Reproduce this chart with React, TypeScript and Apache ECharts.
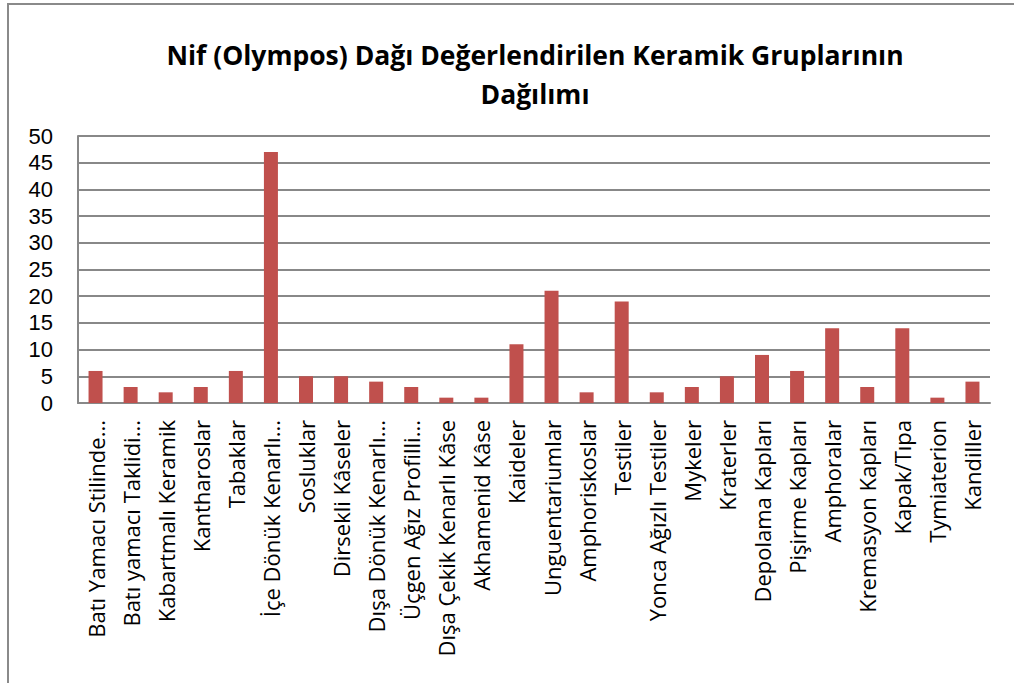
import React, { useEffect, useRef } from "react";
import * as echarts from "echarts";

const categories = [
  "Batı Yamacı Stilinde...",
  "Batı yamacı Taklidi...",
  "Kabartmalı Keramik",
  "Kantharoslar",
  "Tabaklar",
  "İçe Dönük Kenarlı...",
  "Sosluklar",
  "Dirsekli Kâseler",
  "Dışa Dönük Kenarlı...",
  "Üçgen Ağız Profilli...",
  "Dışa Çekik Kenarlı Kâse",
  "Akhamenid Kâse",
  "Kaideler",
  "Unguentariumlar",
  "Amphoriskoslar",
  "Testiler",
  "Yonca Ağızlı Testiler",
  "Mykeler",
  "Kraterler",
  "Depolama Kapları",
  "Pişirme Kapları",
  "Amphoralar",
  "Kremasyon Kapları",
  "Kapak/Tıpa",
  "Tymiaterion",
  "Kandiller",
];

const values = [6, 3, 2, 3, 6, 47, 5, 5, 4, 3, 1, 1, 11, 21, 2, 19, 2, 3, 5, 9, 6, 14, 3, 14, 1, 4];

const titleText = "Nif (Olympos) Dağı Değerlendirilen Keramik Gruplarının\nDağılımı";

const FONT = "'Open Sans', 'Noto Sans', sans-serif";
const NUM_FONT = "'Liberation Sans', Arial, sans-serif";

export default function App() {
  const ref = useRef<HTMLDivElement>(null);
  useEffect(() => {
    document.body.style.margin = "0";
    if (!ref.current) return;
    const chart = echarts.init(ref.current, null, { renderer: "svg" });
    chart.setOption({
      animation: false,
      backgroundColor: "#ffffff",
      title: {
        text: titleText,
        left: 530,
        top: 30,
        textAlign: "center",
        textStyle: {
          fontFamily: FONT,
          fontWeight: "bold",
          fontSize: 26.5,
          lineHeight: 39,
          color: "#000",
        },
      },
      graphic: [
        {
          type: "rect",
          shape: { x: 8, y: 4, width: 1040, height: 720 },
          style: { fill: "none", stroke: "#8a8a8a", lineWidth: 2 },
          silent: true,
        },
      ],
      grid: { left: 78, right: 24, top: 136, bottom: 280, containLabel: false },
      xAxis: {
        type: "category",
        data: categories,
        axisTick: { show: false },
        axisLine: { show: true, lineStyle: { color: "#888888", width: 2 } },
        axisLabel: {
          interval: 0,
          rotate: 90,
          margin: 17,
          fontFamily: FONT,
          fontSize: 22,
          lineHeight: 24,
          color: "#000",
        },
      },
      yAxis: {
        type: "value",
        min: 0,
        max: 50,
        interval: 5,
        axisLine: { show: true, lineStyle: { color: "#888888", width: 2 } },
        axisTick: { show: false },
        splitLine: { show: true, lineStyle: { color: "#888888", width: 2 } },
        axisLabel: {
          margin: 25,
          fontFamily: NUM_FONT,
          fontSize: 22,
          lineHeight: 22,
          color: "#000",
        },
      },
      series: [
        {
          type: "bar",
          data: values,
          barWidth: 14,
          itemStyle: { color: "#C0504D" },
        },
      ],
    });
    return () => chart.dispose();
  }, []);
  return <div ref={ref} style={{ width: 1014, height: 683 }} />;
}
